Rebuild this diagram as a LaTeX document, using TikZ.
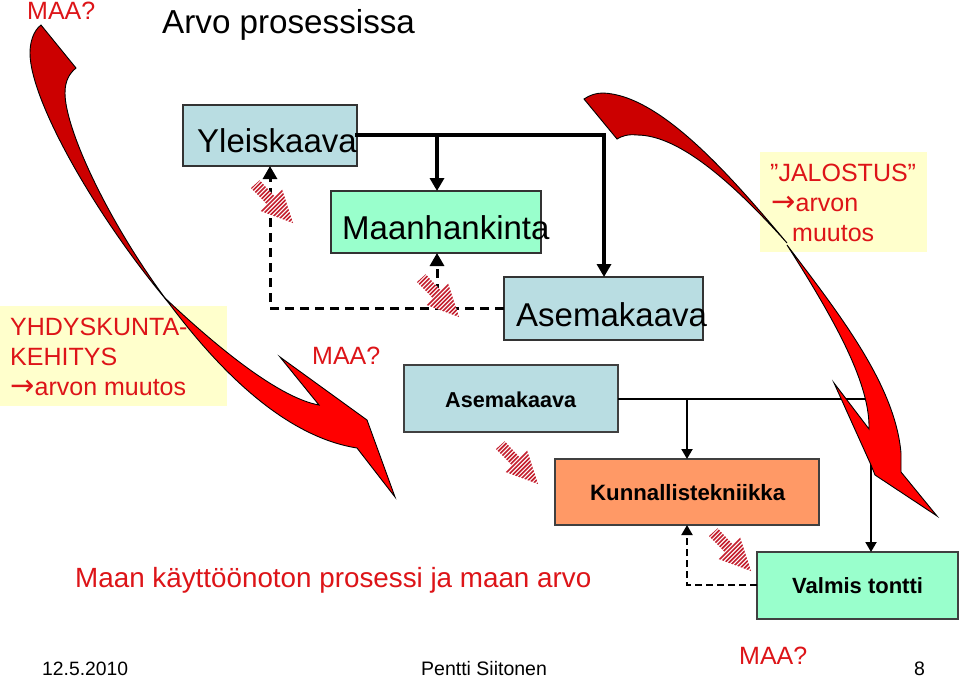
\documentclass[tikz,border=0pt]{standalone}
\usepackage{fontspec}
\setmainfont{Liberation Sans}
\newfontfamily\arrowfont{DejaVu Sans}
\usetikzlibrary{arrows.meta}
\definecolor{txtred}{HTML}{DD1418}
\definecolor{boxblue}{HTML}{B9DDE2}
\definecolor{boxgreen}{HTML}{99FFCC}
\definecolor{boxorange}{HTML}{FF9966}
\definecolor{noteyellow}{HTML}{FFFFCC}
\definecolor{darkred}{HTML}{CC0000}
\definecolor{hatchred}{HTML}{C4202F}
\newcommand{\fs}[1]{\fontsize{#1}{#1}\selectfont}
\newcommand{\ra}{\makebox[24.5pt][l]{\arrowfont\fontsize{29}{29}\selectfont →}}
\newcommand{\hatchshape}{(0,0) -- (8.7,-7.7) -- (24,8.7) -- (31,1) -- (42,35) -- (8.7,22.7) -- (15.7,16) -- cycle}
\tikzset{
  x=1pt,y=-1pt,
  flowbox/.style={draw=black!80,line width=1.6pt,inner sep=0pt,outer sep=0pt,anchor=north west},
  thinbox/.style={draw=black!75,line width=1.1pt,inner sep=0pt,outer sep=0pt,anchor=north west},
  notebox/.style={fill=noteyellow,inner sep=0pt,outer sep=0pt,anchor=north west},
  redtext/.style={text=txtred,inner sep=0pt,anchor=base west},
  blacktext/.style={text=black,inner sep=0pt,anchor=base west},
  heavy/.style={draw=black,line width=3.6pt},
  heavydash/.style={draw=black,line width=3pt,dash pattern=on 9pt off 6pt},
  lightline/.style={draw=black,line width=2pt},
  lightdash/.style={draw=black,line width=2pt,dash pattern=on 7pt off 4pt},
  bigtip/.style={-{Triangle[length=13pt,width=14pt]}},
  smalltip/.style={-{Triangle[length=10pt,width=11pt]}},
  curl/.style={draw=black,line width=0.9pt,line join=miter},
  hatchline/.style={draw=hatchred,line width=1.6pt},
  pics/hatched/.style={code={
    \fill[white] \hatchshape;
    \begin{scope}
      \clip \hatchshape;
      \foreach \d in {-8,-3.8,...,84}
        \draw[hatchline] ({\d-40},40) -- ({\d+50},-50);
    \end{scope}
  }}
}
\begin{document}
\begin{tikzpicture}
\useasboundingbox (0,0) rectangle (960,678);
\fill[white] (0,0) rectangle (960,678);

% note backgrounds
\node[notebox,minimum width=227pt,minimum height=100pt] (noteleft) at (0,306) {};
\node[notebox,minimum width=167pt,minimum height=100pt] (noteright) at (760,152) {};

% boxes
\node[flowbox,fill=boxblue,minimum width=174pt,minimum height=61pt] (yleis) at (183,105) {};
\node[flowbox,fill=boxgreen,minimum width=210pt,minimum height=62pt] (maan) at (331,191) {};
\node[flowbox,fill=boxblue,minimum width=199pt,minimum height=63pt] (asema) at (504,277) {};
\node[thinbox,fill=boxblue,minimum width=214pt,minimum height=67pt] (asemab) at (404,365) {};
\node[thinbox,fill=boxorange,minimum width=264pt,minimum height=66pt] (kunn) at (555,459) {};
\node[thinbox,fill=boxgreen,minimum width=201pt,minimum height=67pt] (valmis) at (757,552) {};

% connectors
\coordinate (hbr) at (437,135);
\coordinate (hend) at (604,135);
\coordinate (dcorner) at (270,308);
\coordinate (dbr) at (437,308);
\coordinate (lbr) at (687,399);
\coordinate (lend) at (871,399);
\coordinate (dc2) at (687,585);
\draw[heavy,line cap=rect] (yleis.east |- hbr) -- (hend);
\draw[heavy,bigtip] (hbr) -- (maan.north -| hbr);
\draw[heavy,bigtip] (hend) -- (asema.north -| hend);
\draw[heavydash,bigtip] (asema.west |- dcorner) -- (dcorner) -- (yleis.south -| dcorner);
\draw[heavydash,bigtip] (dbr) -- (maan.south -| dbr);
\draw[lightline] (asemab.east |- lbr) -- (lend);
\draw[lightline,smalltip] (lbr) -- (kunn.north -| lbr);
\draw[lightline,smalltip] (lend) -- (valmis.north -| lend);
\draw[lightdash,smalltip] (valmis.west |- dc2) -- (dc2) -- (kunn.south -| dc2);

% hatched arrows
\pic at (251,188) {hatched};
\pic at (417,282) {hatched};
\pic at (496,449) {hatched};
\pic at (709,536) {hatched};

% left curved arrow
\path[curl,fill=darkred] (41,25) .. controls (33,31) and (30,43) .. (30,53)
  .. controls (30,100) and (95,215) .. (168,302)
  .. controls (110,225) and (65,130) .. (65,93)
  .. controls (65,80) and (70,73) .. (76,68) -- cycle;
\path[curl,fill=red] (165,298) .. controls (205,352) and (275,435) .. (357,448)
  -- (395,497) -- (367,420) -- (280,357) -- (319,405)
  .. controls (280,398) and (220,350) .. (165,298) -- cycle;

% right curved arrow
\path[curl,fill=darkred] (584,99) .. controls (590,95) and (596,93) .. (603,93)
  .. controls (660,95) and (730,175) .. (787,243)
  .. controls (735,185) and (680,135) .. (637,135)
  .. controls (628,134) and (622,136) .. (617,139) -- cycle;
\path[curl,fill=red] (787,245) .. controls (840,315) and (895,385) .. (901,453)
  -- (901,472) -- (937,516) -- (875,475) -- (871,465) -- (834,383) -- (869,429)
  .. controls (870,385) and (838,325) .. (787,245) -- cycle;

% texts
\node[blacktext] (title) at (162,33) {\fs{33.2}Arvo prosessissa};
\node[redtext] (maa1) at (27,19) {\fs{25}MAA?};
\node[blacktext] (t1) at (197,152) {\fs{33}Yleiskaava};
\node[blacktext] (t2) at (342,239) {\fs{33}Maanhankinta};
\node[blacktext] (t3) at (516,326) {\fs{33}Asemakaava};
\node[blacktext] (t4) at (445,407) {\fs{21.6}\bfseries Asemakaava};
\node[blacktext] (t5) at (590,500) {\fs{22.2}\bfseries Kunnallistekniikka};
\node[blacktext] (t6) at (792,593) {\fs{22}\bfseries Valmis tontti};
\node[redtext] (n1a) at (10,335) {\fs{25}YHDYSKUNTA-};
\node[redtext] (n1b) at (10,365) {\fs{25}KEHITYS};
\node[redtext] (n1c) at (10,395) {\ra{}\fs{25}arvon muutos};
\node[redtext] (n2a) at (770,181) {\fs{25}”JALOSTUS”};
\node[redtext] (n2b) at (771,211) {\ra{}\fs{25}arvon};
\node[redtext] (n2c) at (792,241) {\fs{25}muutos};
\node[redtext] (maa2) at (312,364) {\fs{25}MAA?};
\node[redtext] (maa3) at (739,664) {\fs{25}MAA?};
\node[redtext] (sub) at (75,587) {\fs{27.8}Maan käyttöönoton prosessi ja maan arvo};
\node[blacktext] (f1) at (42,675) {\fs{19.3}12.5.2010};
\node[blacktext] (f2) at (421,675) {\fs{19.5}Pentti Siitonen};
\node[blacktext] (f3) at (914,675) {\fs{19.5}8};
\end{tikzpicture}
\end{document}
